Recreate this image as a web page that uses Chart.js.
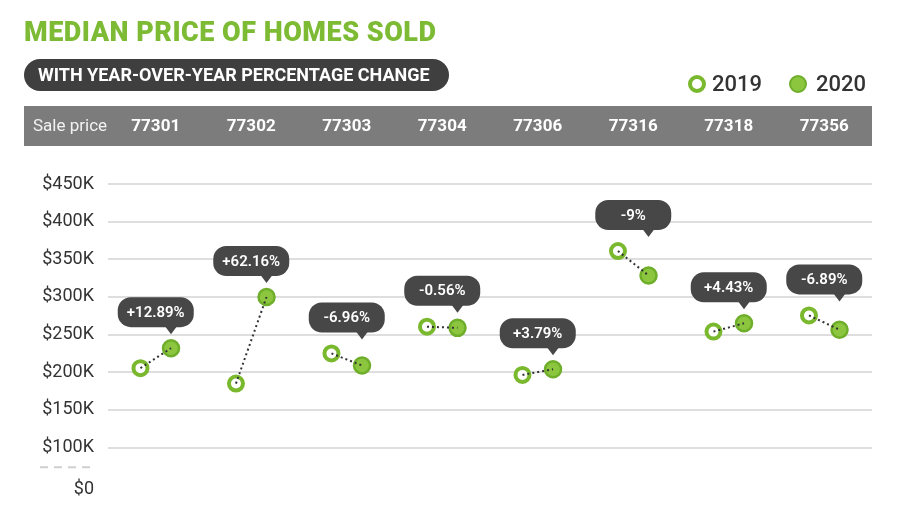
<!DOCTYPE html>
<html>
<head>
<meta charset="utf-8">
<script src="https://cdn.jsdelivr.net/npm/chart.js@4.4.0/dist/chart.umd.min.js"></script>
<style>
  html, body { margin: 0; padding: 0; background: #ffffff; }
  #wrap { position: relative; width: 900px; height: 520px; overflow: hidden; }
  #title { position: absolute; left: 24px; top: 19px; font: 900 27px Roboto, "Open Sans", sans-serif; line-height: 27px; color: #7dbb35; letter-spacing: 0.5px; white-space: nowrap; }
  #subtitle { position: absolute; left: 24px; top: 59px; height: 32px; width: 425px; box-sizing: border-box; padding-left: 14px; border-radius: 16px; background: #3f3f3f; color: #ffffff; font: bold 18px Roboto, "Open Sans", sans-serif; line-height: 32px; white-space: nowrap; }
  canvas { position: absolute; left: 0; top: 0; }
  .leg { position: absolute; top: 71px; height: 26px; line-height: 26px; font: 500 22px Roboto, "Open Sans", sans-serif; color: #333333; white-space: nowrap; }
  .leg i { position: absolute; left: 0; top: 4px; width: 18px; height: 18px; box-sizing: border-box; border-radius: 50%; }
  .leg span { position: absolute; white-space: nowrap; }
  #leg2019 { left: 688px; }
  #leg2019 i { background: #ffffff; border: 4px solid #7ab82e; }
  #leg2019 span { left: 24px; }
  #leg2020 { left: 789px; }
  #leg2020 i { background: #8cc63f; border: 2.5px solid #6fae2a; }
  #leg2020 span { left: 27px; }
</style>
</head>
<body>
<div id="wrap">
  <canvas id="chart" width="900" height="520"></canvas>
  <div id="title">MEDIAN PRICE OF HOMES SOLD</div>
  <div id="subtitle">WITH YEAR-OVER-YEAR PERCENTAGE CHANGE</div>
  <div class="leg" id="leg2019"><i></i><span></span></div>
  <div class="leg" id="leg2020"><i></i><span></span></div>
</div>
<script>
// ---- data ----
const categories = ['77301', '77302', '77303', '77304', '77306', '77316', '77318', '77356'];
const seriesNames = ['2019', '2020'];
const price2019 = [205500, 185000, 225000, 260500, 196500, 361000, 254000, 275500];
const price2020 = [232000, 300000, 209000, 259000, 204000, 328500, 265000, 256500];
const changeLabels = ['+12.89%', '+62.16%', '-6.96%', '-0.56%', '+3.79%', '-9%', '+4.43%', '-6.89%'];
const yTickValues = [0, 100000, 150000, 200000, 250000, 300000, 350000, 400000, 450000];
const rowLabel = 'Sale price';

// ---- layout constants ----
const PAIR_OFFSET = 0.16;     // horizontal offset of each year from the category centre
const AXIS_FLOOR = 45000;     // where the "$0" label sits below the axis break
const BREAK_AT = 74000;       // where the dashed axis-break mark is drawn

document.querySelector('#leg2019 span').textContent = seriesNames[0];
document.querySelector('#leg2020 span').textContent = seriesNames[1];

const GREEN = '#7ab82e';
const pts2019 = price2019.map((v, i) => ({ x: i - PAIR_OFFSET, y: v }));
const pts2020 = price2020.map((v, i) => ({ x: i + PAIR_OFFSET, y: v }));
const connectors = [];
categories.forEach((c, i) => {
  connectors.push({ x: i - PAIR_OFFSET, y: price2019[i] });
  connectors.push({ x: i + PAIR_OFFSET, y: price2020[i] });
  connectors.push({ x: i + 0.5, y: null });
});

function roundRect(ctx, x, y, w, h, r) {
  ctx.beginPath();
  ctx.moveTo(x + r, y);
  ctx.lineTo(x + w - r, y);
  ctx.arcTo(x + w, y, x + w, y + r, r);
  ctx.lineTo(x + w, y + h - r);
  ctx.arcTo(x + w, y + h, x + w - r, y + h, r);
  ctx.lineTo(x + r, y + h);
  ctx.arcTo(x, y + h, x, y + h - r, r);
  ctx.lineTo(x, y + r);
  ctx.arcTo(x, y, x + r, y, r);
  ctx.closePath();
}

const decorPlugin = {
  id: 'decor',
  beforeDraw(chart) {
    const { ctx, chartArea } = chart;
    ctx.save();
    // header bar
    ctx.fillStyle = '#7c7c7c';
    ctx.fillRect(24, 106, chartArea.right - 24, 40);
    ctx.fillStyle = '#f2f2f2';
    ctx.font = '17px Roboto, "Open Sans", sans-serif';
    ctx.textBaseline = 'middle';
    ctx.textAlign = 'left';
    ctx.fillText(rowLabel, 33, 127);
    // axis break mark
    const y = chart.scales.y.getPixelForValue(BREAK_AT);
    ctx.strokeStyle = '#cfcfcf';
    ctx.lineWidth = 2;
    ctx.setLineDash([8, 6]);
    ctx.beginPath();
    ctx.moveTo(40, y);
    ctx.lineTo(96, y);
    ctx.stroke();
    ctx.restore();
  },
  afterDatasetsDraw(chart) {
    const { ctx } = chart;
    const xs = chart.scales.x;
    const m19 = chart.getDatasetMeta(1).data;
    const m20 = chart.getDatasetMeta(2).data;
    ctx.save();
    changeLabels.forEach((lab, i) => {
      const a = m19[i], b = m20[i];
      const topY = Math.min(a.y, b.y);
      const cx = xs.getPixelForValue(i);
      const w = 76, h = 30;
      const bottom = topY - 21;
      const top = bottom - h;
      ctx.fillStyle = '#474747';
      roundRect(ctx, cx - w / 2, top, w, h, 13);
      ctx.fill();
      const px = Math.min(Math.max(b.x, cx - w / 2 + 14), cx + w / 2 - 14);
      ctx.beginPath();
      ctx.moveTo(px - 6, bottom - 1);
      ctx.lineTo(px + 6, bottom - 1);
      ctx.lineTo(px, bottom + 7);
      ctx.closePath();
      ctx.fill();
      ctx.fillStyle = '#ffffff';
      ctx.font = '600 15px Roboto, "Open Sans", sans-serif';
      ctx.textAlign = 'center';
      ctx.textBaseline = 'middle';
      ctx.fillText(lab, cx, top + h / 2 + 1);
    });
    ctx.restore();
  }
};

new Chart(document.getElementById('chart'), {
  type: 'scatter',
  data: {
    datasets: [
      {
        label: 'change',
        type: 'line',
        data: connectors,
        showLine: true,
        spanGaps: false,
        borderColor: '#333333',
        borderWidth: 2,
        borderDash: [2, 3],
        pointRadius: 0,
        order: 0
      },
      {
        label: seriesNames[0],
        data: pts2019,
        pointRadius: 7,
        pointHoverRadius: 7,
        backgroundColor: '#ffffff',
        borderColor: GREEN,
        borderWidth: 4,
        order: 1
      },
      {
        label: seriesNames[1],
        data: pts2020,
        pointRadius: 8,
        pointHoverRadius: 8,
        backgroundColor: '#8cc63f',
        borderColor: '#6fae2a',
        borderWidth: 2.5,
        order: 2
      }
    ]
  },
  options: {
    responsive: false,
    animation: false,
    layout: { padding: { top: 107, right: 28, bottom: 31, left: 0 } },
    plugins: {
      tooltip: { enabled: false },
      legend: { display: false }
    },
    scales: {
      x: {
        type: 'linear',
        position: 'top',
        min: -0.5,
        max: categories.length - 0.5,
        afterBuildTicks: (s) => { s.ticks = categories.map((c, i) => ({ value: i })); },
        afterFit: (s) => { s.height = 77; },
        grid: { display: false, drawTicks: false },
        border: { display: false },
        ticks: {
          padding: 47,
          color: '#ffffff',
          font: { family: 'Roboto, "Open Sans", sans-serif', size: 17, weight: 'bold' },
          callback: (v) => categories[v]
        }
      },
      y: {
        type: 'linear',
        min: AXIS_FLOOR,
        max: 450000,
        afterBuildTicks: (s) => { s.ticks = yTickValues.map(v => ({ value: v === 0 ? AXIS_FLOOR : v })); },
        afterFit: (s) => { s.width = 108; },
        grid: {
          drawTicks: false,
          lineWidth: 2,
          color: (c) => (c.tick && c.tick.value === AXIS_FLOOR) ? 'rgba(0,0,0,0)' : '#dedede'
        },
        border: { display: false },
        ticks: {
          padding: 14,
          color: '#333333',
          font: { family: 'Roboto, "Open Sans", sans-serif', size: 18 },
          callback: (v) => v === AXIS_FLOOR ? '$0' : '$' + (v / 1000) + 'K'
        }
      }
    }
  },
  plugins: [decorPlugin]
});
</script>
</body>
</html>
